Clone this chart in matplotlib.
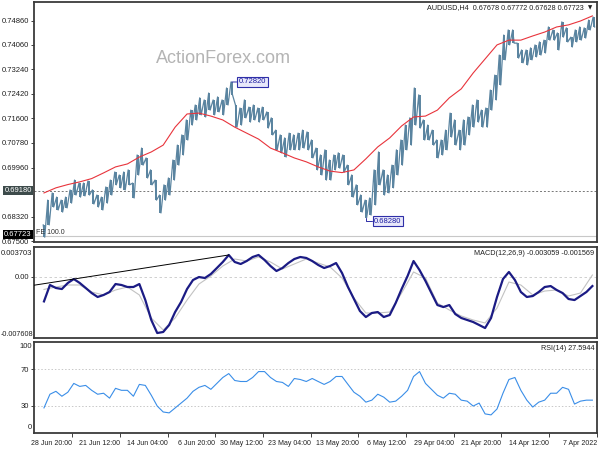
import numpy as np
import matplotlib
matplotlib.use('Agg')
import matplotlib.pyplot as plt
from matplotlib.transforms import blended_transform_factory

plt.rcParams['font.family'] = ['Liberation Sans', 'DejaVu Sans']

# mirrored MT4 screenshot: newest bar on the left, so all series below
# run from newest (0 bars ago) to oldest
bar_step = 3     # one drawn price bar per 3 H4 bars
osc_step = 4     # MACD main / RSI sampling
slow_step = 8    # moving average / MACD signal sampling

bar_high = [
    0.6804, 0.6887, 0.6911, 0.6897, 0.6887, 0.6897, 0.6921, 0.6954, 0.6944, 0.6944,
    0.6951, 0.6921, 0.6904, 0.6897, 0.6931, 0.6954, 0.6981, 0.6971, 0.6981, 0.6988,
    0.6944, 0.7038, 0.7061, 0.7028, 0.6988, 0.6954, 0.6904, 0.6938, 0.6961, 0.7021,
    0.7071, 0.7105, 0.7155, 0.7188, 0.7205, 0.7229, 0.7222, 0.7245, 0.7222, 0.7232,
    0.7222, 0.7262, 0.7282, 0.7205, 0.7195, 0.7222, 0.7198, 0.7205, 0.7195, 0.7198,
    0.7182, 0.7162, 0.7121, 0.7105, 0.7095, 0.7111, 0.7105, 0.7111, 0.7121, 0.7115,
    0.7088, 0.7061, 0.7038, 0.7055, 0.7021, 0.7038, 0.7045, 0.7038, 0.7004, 0.6971,
    0.6938, 0.6904, 0.6887, 0.6894, 0.6988, 0.7048, 0.6988, 0.6971, 0.7004, 0.7055,
    0.7088, 0.7138, 0.7162, 0.7262, 0.7239, 0.7155, 0.7138, 0.7121, 0.7088, 0.7088,
    0.7121, 0.7178, 0.7155, 0.7121, 0.7155, 0.7165, 0.7205, 0.7222, 0.7188, 0.7195,
    0.7255, 0.7305, 0.7372, 0.7439, 0.7456, 0.7456, 0.7412, 0.7389, 0.7389, 0.7396,
    0.7406, 0.7416, 0.7422, 0.7466, 0.7456, 0.7446, 0.7483, 0.7463, 0.7432, 0.7456,
    0.7466, 0.7463, 0.7489, 0.7499]
bar_low = [
    0.6763, 0.6804, 0.6864, 0.6854, 0.6847, 0.6861, 0.6877, 0.6904, 0.6897, 0.6901,
    0.6904, 0.6874, 0.6864, 0.6854, 0.6877, 0.6904, 0.6938, 0.6928, 0.6921, 0.6938,
    0.6894, 0.6971, 0.7004, 0.6961, 0.6938, 0.6887, 0.6844, 0.6887, 0.6904, 0.6954,
    0.7004, 0.7038, 0.7088, 0.7138, 0.7155, 0.7172, 0.7165, 0.7188, 0.7172, 0.7182,
    0.7172, 0.7205, 0.7239, 0.7131, 0.7138, 0.7162, 0.7148, 0.7155, 0.7148, 0.7155,
    0.7128, 0.7105, 0.7055, 0.7045, 0.7031, 0.7055, 0.7055, 0.7055, 0.7061, 0.7055,
    0.7028, 0.6988, 0.6971, 0.6954, 0.6954, 0.6988, 0.6994, 0.6981, 0.6938, 0.6897,
    0.6871, 0.6847, 0.6828, 0.6837, 0.6871, 0.6938, 0.6904, 0.6911, 0.6928, 0.6971,
    0.7004, 0.7055, 0.7071, 0.7138, 0.7128, 0.7088, 0.7088, 0.7071, 0.7028, 0.7038,
    0.7055, 0.7098, 0.7071, 0.7055, 0.7071, 0.7105, 0.7131, 0.7148, 0.7131, 0.7131,
    0.7188, 0.7222, 0.7272, 0.7356, 0.7406, 0.7412, 0.7362, 0.7346, 0.7339, 0.7356,
    0.7366, 0.7372, 0.7379, 0.7422, 0.7422, 0.7389, 0.7432, 0.7416, 0.7399, 0.7416,
    0.7422, 0.7429, 0.7456, 0.7466]
ma_line = [
    0.6911, 0.6928, 0.6939, 0.6948, 0.6959, 0.6978, 0.6998, 0.7008, 0.7031, 0.7048,
    0.7071, 0.7131, 0.7175, 0.7178, 0.7168, 0.7155, 0.7131, 0.7111, 0.7091, 0.7061,
    0.7045, 0.7028, 0.7015, 0.6998, 0.6984, 0.6979, 0.6988, 0.7025, 0.7065, 0.7095,
    0.7135, 0.7165, 0.7168, 0.7188, 0.7229, 0.7259, 0.7312, 0.7359, 0.7406, 0.7422,
    0.7422, 0.7436, 0.7449, 0.7466, 0.7473, 0.7486, 0.7503]

# swing points marked with price labels (index into the bar lists)
marked_high = 42
marked_low = 72

macd_main = [
    -0.00306, -0.00102, -0.00139, -0.00152, -0.00077, -0.00028, -0.00077, -0.00139, -0.00202, -0.00251,
    -0.00226, -0.00189, -0.00090, -0.00102, -0.00127, -0.00127, -0.00090, -0.00289, -0.00537, -0.00699,
    -0.00686, -0.00599, -0.00438, -0.00313, -0.00152, -0.00040, -0.00003, -0.00015, 0.00035, 0.00109,
    0.00184, 0.00271, 0.00184, 0.00159, 0.00196, 0.00246, 0.00271, 0.00209, 0.00134, 0.00072,
    0.00109, 0.00171, 0.00221, 0.00246, 0.00234, 0.00196, 0.00147, 0.00109, 0.00134, 0.00171,
    0.00047, -0.00127, -0.00276, -0.00425, -0.00500, -0.00450, -0.00438, -0.00500, -0.00475, -0.00326,
    -0.00152, 0.00010, 0.00196, 0.00084, -0.00052, -0.00202, -0.00351, -0.00376, -0.00351, -0.00463,
    -0.00512, -0.00537, -0.00562, -0.00599, -0.00637, -0.00512, -0.00251, -0.00028, 0.00060, -0.00040,
    -0.00189, -0.00251, -0.00239, -0.00189, -0.00127, -0.00115, -0.00164, -0.00202, -0.00276, -0.00289,
    -0.00239, -0.00189, -0.00115]
macd_signal = [
    -0.00157, -0.00127, -0.00102, -0.00102, -0.00189, -0.00226, -0.00164, -0.00127, -0.00226, -0.00512,
    -0.00661, -0.00512, -0.00289, -0.00090, 0.00010, 0.00134, 0.00221, 0.00196, 0.00246, 0.00184,
    0.00097, 0.00159, 0.00221, 0.00171, 0.00122, -0.00015, -0.00264, -0.00450, -0.00450, -0.00438,
    -0.00202, 0.00060, -0.00015, -0.00326, -0.00413, -0.00487, -0.00537, -0.00574, -0.00388, -0.00065,
    -0.00102, -0.00226, -0.00177, -0.00164, -0.00239, -0.00202, 0.00022]
rsi_line = [
    27.6, 42.6, 45.8, 40.4, 44.8, 54.5, 51.2, 52.3, 46.9, 42.6,
    43.7, 38.3, 49.1, 46.9, 46.9, 40.4, 53.4, 52.3, 41.5, 29.6,
    23.1, 22.1, 27.5, 32.9, 38.3, 45.8, 50.2, 52.3, 48.0, 54.5,
    61.0, 65.3, 57.7, 56.6, 56.6, 61.0, 67.5, 67.5, 61.0, 56.6,
    55.6, 51.2, 59.9, 58.8, 56.6, 59.9, 56.6, 53.4, 56.6, 62.1,
    62.1, 53.4, 44.8, 40.4, 33.9, 36.1, 42.6, 39.4, 33.9, 35.0,
    40.4, 46.9, 62.1, 67.5, 54.5, 48.0, 41.5, 38.3, 43.7, 42.6,
    36.1, 35.0, 29.6, 32.9, 21.0, 19.9, 26.4, 43.7, 58.8, 61.0,
    46.9, 36.1, 28.5, 33.9, 36.1, 43.7, 43.7, 50.2, 48.0, 31.8,
    35.0, 36.1, 36.1]

date_labels = ['28 Jun 20:00', '21 Jun 12:00', '14 Jun 04:00', '6 Jun 20:00',
               '30 May 12:00', '23 May 04:00', '13 May 20:00', '6 May 12:00',
               '29 Apr 04:00', '21 Apr 20:00', '14 Apr 12:00', '7 Apr 2022']
first_label_bar = 19
label_every = 32

price_ticks = [0.74860, 0.74060, 0.73240, 0.72420, 0.71600, 0.70780, 0.69960, 0.68320, 0.67500]
level_price = 0.69180
fe_price = 0.67660
bid = 0.67723

x_bar = np.arange(len(bar_high)) * bar_step
x_osc = np.arange(len(macd_main)) * osc_step
x_slow = np.arange(len(ma_line)) * slow_step

frame = '#3a3a3a'
bar_col = '#5a84a0'
fig = plt.figure(figsize=(6, 4.5), dpi=100)
ax1 = fig.add_axes([34 / 600, 1 - 242 / 450, 563 / 600, 240 / 450])
ax2 = fig.add_axes([34 / 600, 1 - 338 / 450, 563 / 600, 91 / 450], sharex=ax1)
ax3 = fig.add_axes([34 / 600, 1 - 433 / 450, 563 / 600, 91 / 450], sharex=ax1)

for ax in (ax1, ax2, ax3):
    for s in ax.spines.values():
        s.set_color(frame)
        s.set_linewidth(1.3)
    ax.tick_params(axis='y', direction='out', length=2.5, width=0.6, labelsize=5.5,
                   pad=1, colors='#202020')
    ax.tick_params(axis='x', bottom=False, labelbottom=False)

ax1.set_xlim(-6.7, 371.1)

# ---- price panel ----
# dense MT4 bar chart: high-low bars plus a zigzag joining neighbouring bars
ax1.vlines(x_bar, bar_low, bar_high, color=bar_col, lw=1.4, zorder=3)
zig_x = np.column_stack([x_bar - 0.5, x_bar + 0.5]).ravel()
zig_y = np.column_stack([bar_high, bar_low]).ravel()
ax1.plot(zig_x, zig_y, color=bar_col, lw=0.9, zorder=3)
ax1.plot(x_slow, ma_line, color='#e8343c', lw=0.8, zorder=4)
ax1.axhline(level_price, color='#777777', lw=0.7, ls=(0, (2, 2)), zorder=2)
ax1.axhline(fe_price, color='#c8c8c8', lw=0.8, zorder=2)
ax1.set_ylim(0.67469, 0.75495)
ax1.set_yticks(price_ticks)
ax1.set_yticklabels(['%.5f' % v for v in price_ticks])

tr1 = blended_transform_factory(ax1.transAxes, ax1.transData)
ax1.text(-0.004, level_price, '%.5f' % level_price, transform=tr1, ha='right', va='center',
         fontsize=5.5, color='white', clip_on=False, zorder=6,
         bbox=dict(boxstyle='square,pad=0.15', fc='#3d4b4b', ec='none'))
ax1.text(-0.004, bid, '%.5f' % bid, transform=tr1, ha='right', va='center',
         fontsize=5.5, color='white', clip_on=False, zorder=6,
         bbox=dict(boxstyle='square,pad=0.15', fc='black', ec='none'))
ax1.text(0.004, fe_price, 'FE 100.0', transform=tr1, ha='left', va='bottom',
         fontsize=5, color='#303030')

ax1.text(0.3366, 0.765, 'ActionForex.com', transform=ax1.transAxes, ha='center',
         va='center', fontsize=13, color='#b4b4b4')
ax1.text(0.977, 0.978, 'AUDUSD,H4  0.67678 0.67772 0.67628 0.67723', transform=ax1.transAxes,
         ha='right', va='center', fontsize=5.2, color='#202020')
ax1.text(0.992, 0.978, '\u25bc', transform=ax1.transAxes, ha='right', va='center',
         fontsize=4, color='#202020', family=['DejaVu Sans'])

box = dict(boxstyle='square,pad=0.2', fc='#e8e8fa', ec='#2f2fa8', lw=0.8)
ax1.annotate('%.5f' % bar_high[marked_high], xy=(x_bar[marked_high], bar_high[marked_high]),
             xytext=(5, 0), textcoords='offset points', ha='left', va='center', fontsize=5.5,
             color='#1c1ca0', bbox=box, zorder=7,
             arrowprops=dict(arrowstyle='-', color='#2f2fa8', lw=0.7, shrinkA=0, shrinkB=0))
ax1.annotate('%.5f' % bar_low[marked_low], xy=(x_bar[marked_low], bar_low[marked_low]),
             xytext=(6, -2.5), textcoords='offset points', ha='left', va='center', fontsize=5.5,
             color='#1c1ca0', bbox=box, zorder=7,
             arrowprops=dict(arrowstyle='-', color='#2f2fa8', lw=0.7, shrinkA=0, shrinkB=0,
                             connectionstyle='angle,angleA=0,angleB=90,rad=0'))

# ---- MACD panel ----
ax2.set_ylim(-0.007608, 0.003703)
ax2.axhline(0, color='#c8c8c8', lw=0.6, ls=(0, (3, 3)))
ax2.plot(x_slow, macd_signal, color='#c2c2c2', lw=0.8, zorder=3)
ax2.plot(x_osc, macd_main, color='#1b1b84', lw=1.6, zorder=4)
# trendline across two MACD highs, extended to the left edge
t0, t1 = 5, 31
slope = (macd_main[t1] - macd_main[t0]) / (x_osc[t1] - x_osc[t0])
x_left = ax1.get_xlim()[0]
ax2.plot([x_left, x_osc[t1]], [macd_main[t0] + slope * (x_left - x_osc[t0]), macd_main[t1]],
         color='black', lw=0.7, zorder=5)
ax2.set_yticks([0])
ax2.set_yticklabels(['0.00'])
ax2.text(-0.004, 0.934, '0.003703', transform=ax2.transAxes, ha='right', va='center',
         fontsize=5.5, color='#202020')
ax2.text(1 / 600, 1 - 334 / 450, '-0.007608', transform=fig.transFigure, ha='left',
         va='center', fontsize=5.2, color='#202020')
ax2.text(0.995, 0.925, 'MACD(12,26,9) -0.003059 -0.001569', transform=ax2.transAxes,
         ha='right', va='center', fontsize=5.2, color='#202020')

# ---- RSI panel ----
ax3.set_ylim(0, 100)
for lv in (30, 70):
    ax3.axhline(lv, color='#c8c8c8', lw=0.7, ls=(0, (1.5, 2)))
ax3.plot(x_osc, rsi_line, color='#3a8ee8', lw=0.8)
ax3.set_yticks([30, 70])
ax3.set_yticklabels(['30', '70'])
ax3.text(-0.004, 0.955, '100', transform=ax3.transAxes, ha='right', va='center',
         fontsize=5.5, color='#202020')
ax3.text(-0.004, 0.055, '0', transform=ax3.transAxes, ha='right', va='center',
         fontsize=5.5, color='#202020')
ax3.text(0.995, 0.934, 'RSI(14) 27.5944', transform=ax3.transAxes, ha='right', va='center',
         fontsize=5.2, color='#202020')

date_pos = first_label_bar + label_every * np.arange(len(date_labels))
ax3.set_xticks(date_pos)
ax3.set_xticklabels(date_labels)
ax3.tick_params(axis='x', bottom=True, labelbottom=True, direction='out', length=3,
                width=0.6, labelsize=5, pad=2, colors='#202020')
plt.setp(ax3.get_xticklabels(), ha='right')

fig.savefig('out.png', dpi=100)
